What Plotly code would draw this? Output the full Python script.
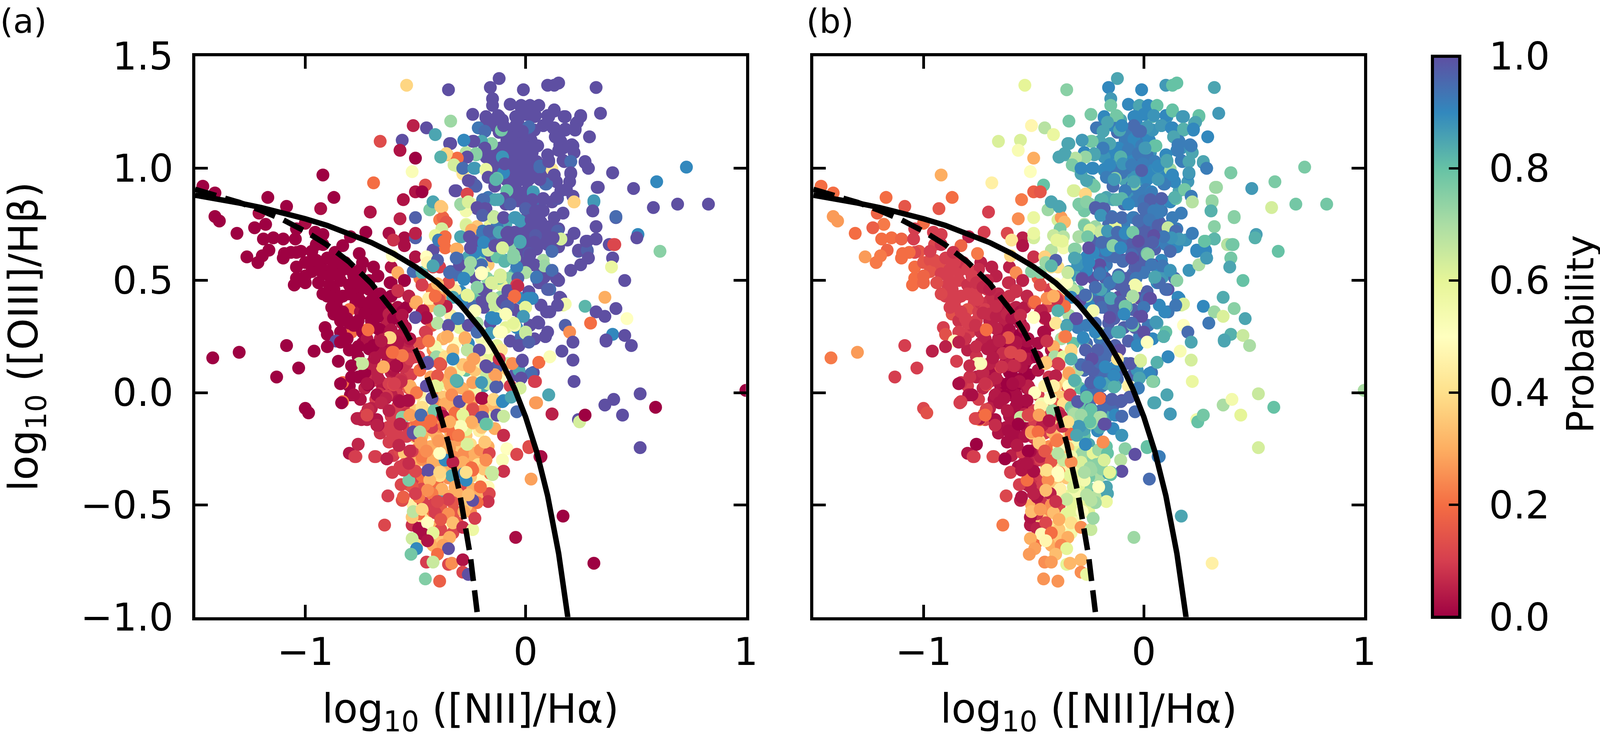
import plotly.graph_objects as go

# BPT diagram; same galaxies in both panels, coloured by model probability
WIDTH = 4113
HEIGHT = 1889

spectral = ['rgb(158,1,66)', 'rgb(213,62,79)', 'rgb(244,109,67)', 'rgb(253,174,97)', 'rgb(254,224,139)',
            'rgb(255,255,191)', 'rgb(230,245,152)', 'rgb(171,221,164)', 'rgb(102,194,165)', 'rgb(50,136,189)',
            'rgb(94,79,162)']

# dense column above the demarcation lines
column_x = [-.12, -.08, -.05, -.14, -.01, .03, -.17, -.06, -.02, .03, -.05, -.13, -.02, .07, .01, -.09, -.05, -.17, -.14,
            -.09, 0, .04, .08, .02, .07, .11, .15, .04, .08, -.01, -.06, -.12, -.09, -.16, -.22, -.25, -.2, -.15, -.09,
            -.06, -.01, .05, .08, .04, 0, -.04, -.09, -.12, -.2, -.25, -.3, -.17, -.2, -.19, -.11, -.34, -.28]
column_y = [1.16, 1.13, 1.10, 1.08, 1.13, 1.07, 1.05, 1.04, 1.02, 1.00, 1.00, 1.02, .97, .97, .96, .95, .88, .87, .86,
            .84, .82, .85, .81, .78, .76, .74, .73, .70, .69, .71, .71, .72, .75, .75, .74, .72, .69, .68, .68,
            .65, .64, .64, .59, .57, .54, .56, .59, .61, .59, .59, .57, .57, .57, .54, .52, .54, .53]
column_pa = [1, 1, 1, 1, 1, 1, 1, 1, 1, 1, 1, 1, 1, 1, .95, 1, 1, .93, .85, 1, .95, 1, 1, 1, 1, 1, 1, .97, 1, 1, 1, .97,
             .85, .6, .35, .9, .95, .6, .87, .75, .85, 1, .7, 1, .65, 1, .85, .75, .75, .9, 1, .35, .93, .55, .63, .97, .95]
column_pb = [.95, .9, .9, .88, .93, .88, .9, .9, .95, .92, .9, .87, 1, .93, .93, .85, .88, .85, .85, .95, .97, .9, .93,
             .95, .95, .92, .92, .97, .95, .95, .97, .97, .92, .95, .72, .85, .93, .97, 1, .97, .97, .97, .9, 1, .95,
             .95, .97, 1, .9, .85, .87, .93, 1, .9, 1, .88, .98]

# points filling the gaps in the column
infill_x = [-.14, -.105, -.075, -.035, -.085, -.045, -.01, .025, .015, -.115,
            -.155, -.18, -.07, -.025, .015, .05, .085, .04, -.005, -.045,
            -.08, -.13, -.155, -.02, .015, .055, .115, .09, -.055, -.02,
            .01, -.035, 0, .03, .065, .06, .025, -.005, .03, .075,
            .11, .08, 0, -.025, 0, .02, .055, -.015, -.08, -.105,
            -.15, -.23, -.24, -.185, -.155, -.26, -.13, -.23, -.02, .015,
            .075, -.05, -.075, -.11, -.175, -.23, -.26, -.315, -.345, -.33,
            -.295, -.24, -.2, -.165, -.115, -.07, -.02, .015, .06, .085]
infill_y = [1.19, 1.215, 1.165, 1.205, 1.125, 1.13, 1.10, 1.125, 1.15, 1.09,
            1.065, 1.05, 1.085, 1.065, 1.06, 1.03, .995, .99, 1.02, .97,
            1.0, .99, 1.015, .95, .95, .96, .97, .99, .92, .89,
            .905, .855, .855, .84, .835, .78, .80, .77, .74, .75,
            .725, .695, .73, .715, .69, .655, .66, .635, .68, .68,
            .695, .67, .625, .63, .61, .605, .605, .625, .58, .58,
            .545, .53, .51, .48, .51, .51, .545, .525, .495, .47,
            .45, .425, .405, .375, .425, .40, .42, .45, .49, .515]
infill_pa = [1, 1, 1, 1, 1, 1, 1, 1, 1, 1,
             1, 1, 1, 1, 1, 1, 1, 1, 1, 1,
             1, 1, 1, 1, 1, 1, 1, 1, 1, 1,
             1, 1, 1, 1, 1, 1, 1, 1, 1, 1,
             1, 1, 1, 1, 1, 1, 1, 1, 1, 1,
             .95, 1, 1, .9, 1, .85, .8, .9, 1, 1,
             1, .85, .75, .6, .75, 1, .72, .95, .9, .5,
             .9, .8, 1, .6, .75, 1, .9, 1, 1, 1]
infill_pb = [.9, .85, .92, .9, .92, .9, .92, .9, .9, .9,
             .9, .88, .92, .93, .93, .92, .9, .9, .92, .88,
             .93, .93, .9, .88, .9, .9, .9, .9, .92, .92,
             .92, .92, .93, .9, .92, .93, .95, .95, .95, .97,
             .95, .97, .97, .97, .97, .97, .97, .97, .97, .95,
             .95, .97, .95, .95, .95, .9, .95, .9, .97, .97,
             .9, .95, .97, .97, .97, 1, .9, .85, .85, .75,
             .8, .95, .97, .97, 1, .97, 1, .97, .9, .87]

# right flank of the column
flank_x = [.10, .15, .19, .13, .17, .12, .16, .20, .14, .10, .17, .22, .04, -.02]
flank_y = [.66, .65, .68, .78, .80, .85, .90, .94, .94, 1.06, 1.09, 1.07, 1.17, 1.27]
flank_pa = [1, 1, 1, 1, 1, 1, 1, 1, 1, 1, 1, 1, 1, 1]
flank_pb = [.92, .9, .88, .92, .92, .9, .85, .87, .9, .9, .88, .85, .88, .88]

# dark clump left of the dashed line
clump_x = [-1.04, -1.00, -.97, -.93, -.88, -.84, -1.04, -1.05, -1.0, -.97, -.92, -.89, -.84, -.89, -.87, -.9, -.82, -.74,
           -.69, -.75, -.67, -.75, -.8, -.71, -.61, -.55, -.71, -.66, -.76, -.83, -.77, -.70, -.86, -.87, -.8, -.75,
           -.68, -.84, -.76, -.70, -.91, -.9, -.72, -.79, -.63, -.66, -.58, -.53, -.57, -.47, -.59, -.45, -.56, -.61,
           -.8, -.74, -.68, -.76, -.71, -.81, -.66, -.73, -.68, -.61, -.65, -.58, -.53, -.61, -.68, -.55, -.57, -.53]
clump_y = [.56, .58, .59, .57, .55, .54, .51, .48, .49, .54, .53, .52, .50, .48, .46, .43, .58, .58,
           .56, .55, .52, .51, .48, .50, .49, .50, .46, .44, .45, .43, .40, .41, .39, .35, .37, .36,
           .37, .32, .32, .32, .29, .26, .28, .27, .31, .35, .45, .43, .34, .36, .375, .33, .31, .56,
           .19, .22, .19, .16, .12, .24, .24, .09, .07, .09, .03, .03, .02, 0, -.03, .12, .22, .19]
clump_pa = [0, 0, 0, 0, 0, 0, 0, 0, 0, 0, 0, 0, 0, 0, 0, 0, 0, 0,
            0, 0, 0, 0, 0, 0, 0, 0, 0, 0, 0, 0, 0, 0, 0, 0, .2, .02,
            0, 0, 0, 0, 0, 0, .2, .2, .05, .08, .07, .06, .02, .03, .4, .03, .03, .03,
            0, 0, .03, 0, .03, 0, .05, .05, .12, .05, .03, .08, .15, .1, .1, .1, .04, .07]
clump_pb = [.2, .15, .13, .13, .1, .1, .2, .2, .18, .15, .1, .1, .1, .1, .1, .1, .08, .05,
            .05, .07, .05, .05, .08, .06, .05, .03, .1, .06, .1, .1, .1, .07, .1, .14, .14, .1,
            .02, .08, .1, .05, .1, .14, .18, .1, .05, .05, .08, .07, .05, .08, .1, .1, .02, .05,
            .05, .05, .03, .08, .05, .08, .05, .04, .02, 0, 0, 0, .03, .02, .03, .02, .04, 0]

# more of the clump, mostly hidden under the points drawn later
core_x = [-.80, -.78, -.76, -.73, -.8, -.77, -.74, -.72, -.7, -.67, -.65, -.63, -.62, -.6, -.58, -.56, -.54, -.83, -.81, -.78,
          -.74, -.72, -.69, -.66, -.64, -.61, -.59, -.56, -.53, -.63, -.60, -.57, -.54, -.60, -.63, -.66, -.69, -.66, -.70, -.73,
          -.62, -.58, -.56, -.52, -.50]
core_y = [.55, .52, .49, .47, .44, .42, .40, .37, .35, .34, .42, .38, .35, .33, .38, .36, .38, .36, .33, .30,
          .27, .24, .21, .28, .26, .28, .25, .26, .23, .19, .21, .16, .13, .10, .13, .11, .09, .05, .05, .02,
          .04, -.01, .06, .08, .16]
core_pa = [0, 0, 0, 0, 0, 0, 0, 0, 0, 0, 0, 0, .05, 0, .02, 0, 0, 0, 0, 0,
           0, .03, 0, 0, .03, .03, .05, .04, .05, .02, .03, .05, .08, .03, .02, .03, .05, .04, .07, .05,
           .1, .1, .05, .1, .08]
core_pb = [.1, .1, .08, .06, .1, .1, .08, .1, .07, .05, .05, .04, .06, .03, .05, .03, .04, .1, .1, .08,
           .06, .05, .04, .03, .02, .02, .03, 0, .02, 0, .02, 0, 0, 0, .02, .03, .02, .03, .05, .06,
           0, .02, 0, 0, 0]

# outer edge of the clump
spur_x = [-1.10, -1.02, -.95, -1.0, -.94, -.95, -.90, -.86, -.92, -.85, -.88, -.84, -.80, -.85, -.80, -.76, -.75, -.72, -.70, -.66, -.62, -.60]
spur_y = [.60, .63, .66, .52, .49, .59, .60, .58, .44, .42, .38, .27, .31, .14, .03, .07, -.03, -.12, -.07, -.18, -.22, -.28]
spur_pa = [0, 0, 0, 0, 0, 0, 0, 0, 0, 0, 0, 0, 0, 0, 0, 0, .03, .05, .05, .08, .1, .1]
spur_pb = [.2, .15, .12, .18, .13, .13, .1, .1, .12, .1, .1, .1, .1, .1, .1, .05, .1, .12, .05, .03, .02, .05]

# mixed wedge between and below the two lines
wedge_x = [-.48, -.42, -.48, -.43, -.39, -.52, -.48, -.40, -.35, -.55, -.5, -.43, -.53, -.45, -.40, -.35, -.27, -.29, -.22,
           -.17, -.22, -.27, -.17, -.12, -.39, -.43, -.5, -.43, -.39, -.32, -.27, -.22, -.18, -.34, -.48, -.53, -.40,
           -.32, -.22, -.35, -.48, -.40, -.29, -.40, -.34]
wedge_y = [.22, .19, .10, .07, .05, .02, -.01, -.01, .03, -.07, -.08, -.13, -.16, -.18, -.10, -.13, -.08, .02, .02,
           .05, .08, .10, .16, .18, .17, .14, -.2, -.24, -.27, -.25, -.27, -.29, -.30, -.31, -.30, -.31, -.32,
           -.33, -.37, -.38, -.38, -.41, -.41, -.45, -.46]
wedge_pa = [.15, .25, .2, .28, .4, .3, .45, .25, .45, .1, .35, .25, .1, .55, .45, .5, .4, .3, .45,
            .7, .5, .8, .6, .45, .55, .2, .4, .3, .28, .35, .28, .25, .3, .2, .3, .12, .35,
            .35, .55, .25, .1, .2, .12, .85, .3]
wedge_pb = [.02, .03, .03, .08, .2, .05, .1, .3, .15, 0, .1, .1, .02, .1, .3, .6, .85, .8, .9,
            .92, .95, .95, .95, 1, .1, .05, .08, .25, .25, .6, .6, .75, .7, .62, .07, .03, .3,
            .55, .7, .35, .08, .35, .6, .45, .6]

# lower wedge, rough rows from top to tip
low_x = [-.58, -.44, -.37, -.30, -.24, -.16, -.57, -.46, -.38, -.31, -.25, -.17,
         -.60, -.50, -.42, -.34, -.27, -.21, -.14, -.58, -.47, -.40, -.31, -.25, -.17,
         -.57, -.49, -.41, -.35, -.28, -.24, -.19, -.57, -.51, -.44, -.37, -.30, -.26, -.20, -.16,
         -.53, -.46, -.38, -.31, -.24, -.18, -.51, -.44, -.38, -.32, -.25,
         -.49, -.41, -.36, -.31, -.49, -.42, -.38]
low_y = [-.06, -.05, -.03, -.06, -.03, -.06, -.11, -.10, -.12, -.12, -.10, -.11,
         -.15, -.15, -.17, -.18, -.19, -.17, -.16, -.19, -.19, -.20, -.21, -.23, -.24,
         -.26, -.25, -.27, -.29, -.27, -.29, -.28, -.33, -.35, -.33, -.33, -.35, -.33, -.37, -.36,
         -.41, -.41, -.43, -.45, -.43, -.46, -.50, -.54, -.54, -.53, -.53,
         -.58, -.60, -.60, -.58, -.67, -.68, -.65]
low_pa = [.1, .3, .35, .45, .3, .35, .1, .28, .3, .35, .85, .6,
          .1, .25, .3, .3, .35, .45, .3, .1, .3, .3, .28, .4, .3,
          .12, .25, .35, .3, .25, .3, .2, .1, .2, .25, .3, .3, .25, .5, .2,
          .15, .2, .3, .3, .3, .15, .45, .2, .25, .15, .25,
          .02, .3, .5, .15, .4, .3, .35]
low_pb = [.02, .3, .3, .85, .95, .95, 0, .12, .2, .7, .8, .85,
          .03, .05, .3, .4, .8, .9, .9, .02, .1, .3, .55, .85, .8,
          .05, .1, .3, .5, .7, .75, .85, .02, .03, .15, .45, .55, .75, .7, .85,
          .05, .1, .45, .55, .75, .8, .3, .25, .45, .6, .6,
          .1, .4, .5, .55, .2, .3, .35]

# ridge just under the solid line
ridge_x = [-.30, -.24, -.18, -.11, -.05, -.33, -.26, -.19, -.12, -.08, -.03,
           -.32, -.26, -.20, -.13, -.07, -.02, .04, -.30, -.22, -.16, -.09, -.04, .02,
           -.25, -.19, -.12, -.05, .01, .07]
ridge_y = [.10, .11, .09, .10, .08, .05, .01, .03, .06, .13, .10,
           .22, .22, .24, .21, .23, .25, .24, .29, .31, .31, .29, .29, .30,
           .39, .38, .36, .37, .42, .39]
ridge_pa = [.55, .5, .65, .35, 1, .35, .3, .85, .5, .65, .85,
            .5, .9, .55, .6, 1, .95, 1, .6, .7, 1, .6, .9, 1,
            .95, 1, .55, 1, .9, 1]
ridge_pb = [.7, .95, .95, .97, .97, .75, .9, .93, .95, .95, .88,
            .8, .95, .93, .97, .97, .92, .9, .92, .95, .97, .97, .97, .93,
            .9, .95, .97, .97, .95, .9]

# points filling the gaps in the wedge and the clump
mass_x = [-.435, -.375, -.425, -.35, -.315, -.34, -.425, -.375, -.41, -.405, -.365, -.285, -.23, -.20, -.13,
          -.17, -.23, -.375, -.34, -.375, -.465, -.525, -.495, -.455, -.405, -.365, -.33, -.26, -.195, -.14,
          -.20, -.27, -.33, -.39, -.425, -.495, -.54, -.495, -.405, -.345, -.285, -.23, -.20, -.425, -.47,
          -.73, -.67, -.61, -.70, -.755, -.765, -.67, -.76, -.71, -.64, -.73, -.67, -.61, -.555, -.525,
          -.58, -.525, -.61, -.54, -.61, -.625]
mass_y = [.385, .415, .46, .46, .425, .345, .30, .24, .205, .16, .16, .125, .10, .135, .115,
          .04, .01, .055, .03, -.02, -.05, .03, 0, -.05, -.05, -.05, -.065, -.06, -.08, -.06,
          -.155, -.165, -.16, -.15, -.155, -.13, -.195, -.195, -.24, -.245, -.28, -.27, -.32, -.305, -.295,
          .355, .385, .43, .46, .415, .30, .285, .205, .195, .175, .09, .065, .125, .115, .24,
          .225, .15, -.01, -.095, -.105, -.155]
mass_pa = [.3, .3, .2, .3, .9, .45, .15, .3, .55, .72, .4, .35, .35, .45, .97,
           .65, .55, .3, .3, .35, .42, .3, .22, .5, .25, .3, .3, .4, .25, .32,
           .35, .6, .22, .25, .1, .2, .1, .12, .3, .28, .25, .3, .2, .3, .25,
           0, 0, 0, 0, 0, 0, 0, 0, 0, .03, 0, .05, .05, .08, .03,
           .03, .1, .05, .08, .1, .1]
mass_pb = [.1, .2, .1, .5, .75, .7, .03, .7, .3, .7, .6, .95, .97, .95, .9,
           .85, .95, .4, .5, .35, .55, .05, .5, .55, .15, .4, .78, .8, .95, .95,
           .85, .85, .6, .35, .1, .1, .03, .1, .2, .35, .72, .6, .72, .25, .1,
           .07, .07, .08, .05, .1, .08, .05, .07, .04, .07, .06, .05, .05, .03, .02,
           .03, .03, .02, .05, .03, .03]

# rest of the wedge tail
tail_x = [-.55, -.525, -.47, -.42, -.385, -.47, -.53, -.55, -.385, -.33, -.285, -.205, -.165, -.215, -.19, -.335, -.47,
          -.515, -.425, -.385, -.33, -.27, -.205, -.22, -.465, -.485, -.42, -.35, -.385, -.465, -.33, -.515, -.485]
tail_y = [-.27, -.31, -.285, -.305, -.355, -.37, -.355, -.32, -.245, -.285, -.31, -.255, -.27, -.32, -.34, -.37, -.43,
          -.42, -.45, -.505, -.49, -.505, -.43, -.465, -.49, -.465, -.50, -.54, -.61, -.565, -.625, -.59, -.54]
tail_pa = [.35, .3, .22, .3, .35, .2, .15, .1, .3, .25, .3, .25, .12, .4, .35, .85, .12,
           .15, .22, .15, .15, .35, .25, .3, .1, .22, .1, .25, .12, .42, .12, .08, .2]
tail_pb = [.1, .05, .05, .15, .25, .1, .05, .03, .5, .55, .62, .72, .8, .75, .75, .6, .1,
           .05, .05, .12, .6, .6, .82, .68, .08, .03, .25, .6, .35, .35, .55, .04, .08]

# band around the solid line
band_x = [-.58, -.48, -.47, -.5, -.43, -.39, -.40, -.51, -.47, -.42, -.39, -.34, -.28, -.2, -.15, -.08, -.04, 0, .05, .12,
          .14, .07, .11, .03, -.12, -.26, -.15, -.1, -.18, -.21, -.32, -.35, -.40, -.33, -.29, -.05, .16, .17, .15, .27,
          .36, .41, .32, .36, .46, .295, .11, 0, -.08, -.14, -.23, -.37, -.09, -.02, -.01, -.15, -.24, -.31, -.40, -.35,
          -.05, .06, .18, .20, .10, 0, -.16, -.11, -.2, -.275, -.36, -.45, -.62, -.65, -.86, .395, .45, .365, .09]
band_y = [.535, .51, .48, .40, .42, .42, .43, .54, .535, .56, .56, .53, .51, .53, .485, .45, .48, .535, .51, .54,
          .51, .49, .46, .42, .51, .43, .42, .41, .455, .46, .455, .49, .485, .425, .41, .43, .42, .39, .39, .385,
          .425, .375, .36, .34, .33, .31, .36, .38, .38, .39, .365, .38, .35, .34, .34, .33, .30, .33, .31, .30,
          .30, .31, .30, .27, .27, .265, .265, .27, .265, .24, .25, .265, .245, .235, .23, .26, .255, .23, .25]
band_pa = [.3, .22, .12, .28, .45, .2, .3, .95, .83, .13, .1, .95, .9, .5, .62, 1, .05, .68, .95, 1,
           1, 1, .95, .9, .8, .6, .65, 1, 1, .77, .43, .13, .32, .85, .9, .2, 1, .6, 1, .82,
           .3, 1, 1, 1, .5, .2, 1, .55, 1, .65, .48, .75, .52, 1, .85, .92, 1, .9, .68, .97,
           .55, 1, .97, .25, 1, .63, .9, .5, .5, .33, .33, .1, .4, .05, 1, .9, 1, 1, 1]
band_pb = [.25, .17, .18, .13, .3, .17, .18, .75, .75, .4, .4, .88, .97, .9, .97, .98, .55, .95, .85, .88,
           .95, .95, .97, 1, .97, .72, .95, 1, .92, .9, .67, .5, .5, .9, 1, .6, .9, .62, .92, .9,
           .84, .75, .72, .62, .85, .93, .93, 1, .75, .97, .55, .87, .85, 1, .97, .97, .93, .98, .45, .87,
           .78, .85, .5, .95, .8, .95, .97, .85, .7, .85, .27, .02, .05, .03, .5, .83, .65, .85, .9]

# points in the upper half, most of them separate enough to read
upper_x = [-.54, -.35, -.12, -.16, -.15, -.01, .10, .13, .15, .32, -.15, -.07, -.02, .02, .06, .13, -.24, .34, .25, .18,
           -.18, -.12, -.04, .01, .04, .105, -.34, -.51, -.45, .23, .08, -.11, -.21, .13, -.185, -.11, .01, .225, -.41, .18,
           -.025, .29, -.56, -.66, -.28, .135, -.24, -.34, -.155, .16, .215, -.185, .055, .01, -.57, .15, -.50, -.27, -.225, -.355,
           -.385, -.31, -.105, .105, .175, .205, .27, -.31, .285, .73, .12, -.23, -.285, -.18, -.515, .065, -.09, -.92, .395, .205,
           -.285, -.10, .13, .595, -.69, -.455, -.165, -.13, -.245, .09, -.045, -.225, -.14, .33, .49, -.315, .185, -.50, -.47, -.085,
           .035, -1.465, -1.41, -1.17, -.87, -.265, -.555, -.10, .215, .145, .08, .035, -.19, .22, .31, -.42, -.38, -.245, -1.085, -.93,
           -.435, -.29, -.22, -.18, .58, .69, .83, -.705, .305, -1.21, -1.41, -1.39, -.57, -.50, .41, -.27, -.19, -.145, -.10, -.045,
           .04, -.025, -.39, -.375, -.36, -.27, -1.18, -1.23, -1.0, .32, -.38, -.195, -.13, -.08, .22, -1.31, -1.04, -.955, -.92, -.725,
           -.62, -.55, -.50, -.50, -.795, .51, .505, -.41, -.29, -.39, -.365, -.19, -.025, .16, .045, .28, .32, .38, .405, -1.19,
           -1.145, -1.10, -1.045, -.60, -.55, -.83, -.92, -.31, -.365, -.14, -.105, -.25, -.17, -.42, .12, .24, .28, .015, .61, -1.165,
           -.97, -1.095, -1.04, -.865, -1.065, -1.265, -1.195, -1.215, -.755, -.605, -.50, -.45, -.445, -.40, -.31, .395, .285, -.055, -.05]
upper_y = [1.37, 1.35, 1.40, 1.36, 1.31, 1.35, 1.37, 1.37, 1.38, 1.36, 1.28, 1.285, 1.28, 1.28, 1.28, 1.26, 1.24, 1.245, 1.23, 1.23,
           1.23, 1.23, 1.23, 1.24, 1.23, 1.23, 1.21, 1.19, 1.18, 1.20, 1.19, 1.19, 1.18, 1.18, 1.165, 1.17, 1.18, 1.17, 1.15, 1.17,
           1.165, 1.14, 1.125, 1.12, 1.125, 1.14, 1.12, 1.11, 1.11, 1.12, 1.10, 1.09, 1.10, 1.09, 1.08, 1.08, 1.045, 1.07, 1.06, 1.06,
           1.05, 1.04, 1.05, 1.035, 1.03, 1.03, 1.025, 1.01, 1.0, 1.005, .995, 1.0, 1.0, .99, .985, 1.005, 1.02, .97, .98, .975,
           .975, .98, .97, .94, .935, .925, .96, .955, .94, .93, .93, .92, .92, .915, .91, .90, .905, .895, .895, .90,
           .895, .92, .89, .87, .87, .885, .86, .865, .875, .865, .865, .855, .86, .85, .85, .85, .825, .84, .83, .82,
           .815, .835, .82, .82, .825, .84, .84, .805, .81, .80, .785, .765, .775, .78, .78, .81, .80, .785, .78, .78,
           .805, .765, .77, .78, .76, .75, .75, .735, .755, .74, .73, .72, .74, .715, .71, .71, .73, .715, .705, .715,
           .71, .69, .69, .71, .695, .705, .69, .70, .695, .675, .695, .665, .67, .685, .67, .675, .685, .66, .66, .685,
           .69, .685, .685, .68, .655, .655, .66, .64, .645, .655, .645, .645, .635, .635, .63, .63, .63, .62, .63, .635,
           .63, .62, .625, .625, .625, .605, .61, .58, .62, .61, .605, .605, .58, .59, .60, .60, .60, .615, .60]
upper_pa = [.38, 1, 1, 1, 1, 1, 1, 1, 1, 1, 1, 1, 1, 1, 1, 1, 1, 1, 1, 1,
            1, 1, 1, 1, 1, 1, .72, .05, 1, 1, 1, 1, 1, 1, .95, .78, .97, 1, .85, 1,
            1, 1, 1, .13, .92, 1, 1, 1, .75, 1, 1, 1, 1, 1, .03, 1, 0, .68, .78, .35,
            .83, .22, .87, 1, 1, .93, 1, .63, 1, .9, .42, .87, 1, .58, .52, .95, 1, 0, 1, 1,
            .42, .9, 1, .9, .2, .13, 1, .8, 1, .95, 1, .97, 1, 1, 1, 1, 1, .03, 0, .8,
            .85, 0, 0, 0, 0, .12, .03, 1, 1, .98, .98, .95, .95, .33, .87, .83, .35, .55, 0, .02,
            .77, .7, 1, 1, 1, 1, 1, .03, 1, .02, 0, 0, .05, .97, .97, .55, .93, .68, 1, .85,
            1, .87, .22, .18, .15, .58, 0, 0, .02, 1, .63, .93, .93, 1, 1, 0, 0, 0, 0, 0,
            .02, .02, .97, .05, 0, .9, 1, .6, .83, .9, .2, .9, .85, .63, 1, 1, 1, 1, .12, 0,
            0, 0, 0, .08, .02, 0, 0, .3, .2, 1, .65, 1, .65, 1, .95, .97, .97, .98, .75, 0,
            0, 0, 0, 0, 0, 0, 0, 0, 0, .5, .03, .5, .47, .9, .95, 1, 1, .7, .72]
upper_pb = [.60, .75, .85, .9, .87, .9, .87, .8, .8, .85, .78, .9, .85, .9, .8, .8, .77, .87, .8, .87,
            .9, .8, .9, .9, .83, .88, .78, .47, .68, .85, .88, .92, .93, .92, .84, .85, .87, .9, .58, .83,
            .95, .9, .62, .62, .85, .85, .77, .85, .86, .92, .92, .9, .8, .85, .53, .9, .3, .9, .85, .83,
            .85, .67, .82, .85, .92, .82, .9, .76, .9, .77, .72, .9, .7, .85, .51, .88, .9, .3, .77, .9,
            .85, .93, .95, .77, .45, .8, .93, .75, .87, .95, .75, .78, .95, .72, .87, .62, .8, .17, .15, .95,
            .9, .2, .2, .2, .2, .38, .22, .83, .95, .8, .97, .93, .83, .65, .72, .85, .85, .75, .15, .15,
            .72, .78, .97, .97, .63, .78, .78, .1, .84, .18, .27, .27, .25, .58, .75, .78, .88, .92, .97, .95,
            .9, .95, .62, .27, .32, .68, .22, .17, .2, .75, .77, .68, .6, .9, .92, .2, .1, .1, .1, .1,
            .12, .05, .63, .58, .05, .86, .83, .65, .68, .58, .68, .93, .97, .83, .9, .78, .82, .68, .78, .2,
            .2, .18, .1, .42, .03, .18, .08, .73, .55, .77, .88, .97, .9, .68, .95, .9, .92, .78, .8, .18,
            .1, .2, .12, .08, .2, .27, .22, .22, .22, .38, .08, .37, .72, .45, .85, .75, .88, .97, 1]

# points in the lower half and the tail of the wedge
lower_x = [-1.42, -1.30, -1.085, -.96, -.90, -.84, -1.13, -1.03, -.83, -.84, -.79, -.715, -.795, -.83, -.835, -1.0, -.985, -.715, -.76, -.745,
           -.725, -.67, -.675, -.76, -.80, -.77, -.68, -.63, -.605, -.565, -.625, -.56, -.555, -.64, -.515, -.51, -.47, -.41, -.385, -.485,
           -.445, -.465, -.42, -.345, -.515, -.445, -.375, -.33, -.285, -.24, -.23, -.28, -.495, -.52, -.35, -.40, -.45, -.42, -.35, -.335,
           -.285, -.285, -.26, -.455, -.39, .17, -.045, .31, .12, .24, .245, .27, .36, .40, .52, .59, .44, .52, .105, .05,
           .015, .07, -.10, .025, -.085, -.04, -.105, -.10, -.15, -.17, -.165, -.17, -.22, -.24, -.26, .22, .215, .215, .165, .11,
           .06, .035, .045, -.025, -.015, -.03, .365, .48, 1.0, -.60, -.56, -.65, -.755, -.79, -.70, -.585, -.485, -.46, -.445, -.385,
           -.33, -.26, -.33, -.24, -.18, -.255, -.34, -.14, -.31, -.24, -.13, -.07, -.45, -.40, -.565, -.60, -.665, -.63, -.575, -.53,
           -.47, -.425, -.335, -.26, -.195, -.145, -.10, -.30, -.24, -.32, -.385, -.475, -.555, -.52, -.13, -.10, -.195, -.24, -.175, -.29,
           -.33, -.39, -.475, -.575, -.515, -.45, -.365, -.245, -.28, -.25, -.445, -.50, -.39, -.435, -.185, -.265, -.51, -.565, -.37, -.46,
           -.615, -.32, -.35, -.40, -.445, -.50, -.53, -.27, -.205]
lower_y = [.155, .18, .21, .185, .205, .225, .07, .11, .045, .04, .07, .035, -.01, -.04, -.045, -.07, -.09, -.075, -.115, -.12,
           -.095, -.145, -.12, -.23, -.27, -.285, -.285, -.295, -.355, -.41, -.46, -.48, -.465, -.59, -.555, -.53, -.52, -.535, -.565, -.605,
           -.58, -.63, -.625, -.645, -.65, -.66, -.68, -.58, -.60, -.61, -.56, -.53, -.695, -.72, -.695, -.72, -.755, -.755, -.765, -.76,
           -.745, -.80, -.81, -.83, -.84, -.55, -.645, -.76, -.095, -.12, -.13, -.10, -.055, -.03, -.005, -.065, -.10, -.245, -.01, -.045,
           -.24, -.285, -.19, -.385, -.25, -.275, -.30, -.35, -.365, -.42, -.45, -.485, -.49, -.48, -.455, .05, .145, .225, .185, .16,
           .135, .09, .05, .02, .14, .21, .235, .21, .01, .18, .165, .115, .13, .12, .13, .12, .16, .13, .135, .125,
           .18, .19, .15, .15, .12, .115, .09, .08, .05, .045, .03, .03, .03, .03, .06, .035, -.005, -.015, -.035, -.035,
           -.065, -.025, -.01, -.015, -.025, -.03, -.035, -.04, -.07, -.09, -.09, -.10, -.11, -.10, -.10, -.105, -.11, -.135, -.14, -.15,
           -.185, -.21, -.215, -.235, -.26, -.26, -.30, -.335, -.36, -.375, -.35, -.35, -.37, -.39, -.22, -.23, -.18, -.14, -.15, -.145,
           -.17, -.42, -.475, -.485, -.435, -.45, -.39, -.39, -.42]
lower_pa = [0, 0, 0, 0, 0, 0, 0, 0, .2, 0, 0, 0, 0, .22, 0, 0, 0, .05, .05, .05,
            .1, .03, .03, .03, .03, .12, .12, .06, .1, .12, .1, .13, .17, .12, .35, .67, .38, .1, .15, .02,
            .5, .02, .6, .3, .64, .03, .28, .33, .07, .57, .1, .3, .9, .78, 1, .2, .1, .65, .12, .25,
            .03, .12, 1, .76, .17, 0, .02, 0, .07, 1, .63, 0, 1, 1, 1, 0, 1, 1, .82, .27,
            .13, .02, .05, .28, .5, .13, .52, .08, .65, .48, .12, .08, .2, 1, .33, 1, 1, 1, 1, .5,
            .2, 1, .12, .62, 1, 1, 1, 1, 0, .2, .22, .3, .65, 0, .05, 0, .1, .1, .95, .13,
            .4, .68, .88, .33, 1, .35, .33, .3, .85, .35, 1, .1, 1, .6, .08, .12, .08, .1, .03, .05,
            .4, 1, .25, .28, .03, .42, .88, 1, .18, .2, .1, .97, .78, .33, 1, .65, 1, .32, .75, .52,
            .2, .3, .28, .05, .1, .3, .9, .2, .92, .35, 1, .13, .4, .32, .37, .6, 1, .05, .2, .2,
            .1, .3, .1, .12, .25, .1, .77, .9, .2]
lower_pb = [.22, .27, .1, .05, .05, .05, .1, .1, .08, .02, .08, .12, .03, .1, .1, .12, .14, .12, .13, .22,
            .2, .02, .02, 0, .03, .1, .12, 0, .08, .1, .12, .05, .03, .22, .03, .33, .27, .33, .3, .05,
            .12, .48, .2, .3, .3, .47, .24, .4, .25, .65, .72, .5, .28, .27, .6, .33, .25, .27, .6, .32,
            .32, .25, .58, .26, .26, .85, .72, .45, .88, .55, .8, .78, .7, .55, .65, .8, .6, .63, .82, .85,
            .8, .92, .88, .95, .75, 1, .68, 1, .8, .85, .85, .58, .72, .68, .68, .58, .63, .85, .53, .92,
            .85, .93, .8, .93, .65, .95, .85, .7, .7, .1, .13, .13, .55, .07, .05, .05, 0, .05, .35, .1,
            .45, .65, .85, .95, .95, .92, .35, .93, .78, 1, .85, .45, .5, .35, 0, 0, .03, 0, .02, .02,
            .45, .5, .1, .95, 1, .98, 1, .98, .97, .75, .08, 0, .6, .15, .9, .95, .72, .72, .98, .87,
            .18, .23, .38, .07, .02, .14, .63, .72, .6, .78, .37, .03, .5, .25, .22, .9, .35, 0, .08, .05,
            .02, .62, .65, .08, .33, .05, .2, .55, .5]

tower_x = [-.18, -.125, -.045, 0, .045, .10, .13, .175, .25, .235, .08, .125, .18, .225, .135, .155, .21, .155, .05, .005,
           .015, -.015, -.045, -.10, -.165, -.215, -.185, -.155, -.2, -.235, -.28, -.345, -.185, -.225, -.265, -.31, -.36, -.385, -.325, -.285,
           -.235, -.18, -.17, -.135, -.23, -.26, -.32, -.265, -.295, -.26, -.42, -.385, -.105, -.095, -.055, -.01, .065, .095, .105, .17,
           .205, .27, .285, .205, .13, .065, -.045, -.085, .035, .03, .08, .14, .185, .215, .22, .325, .31, .305, .395, .41,
           -.10, -.07, -.125, -.195, -.22, -.185, -.195, -.145, -.10, -.05, -.025, 0, .045, .07, .04, .025, .065, .11, .145, .22,
           .16, .125, .09, .045, .04, -.27, -.245, -.295, -.255, -.395, -.37, -.315, -.25, -.195, -.165, -.12, -.085, -.05, -.025, -.19,
           -.14, -.105, -.055, .02, .085, .035, .12, .24, .28, .32, .275, .395, .38, .40, .39, .205, .25, .285, .12, .15,
           .05, 0, -.04, -.095, -.055, -.30, -.315, -.40, -.42, -.205, -.25, -.20, -.345, -.28, -.115, -.155, -.035, -.04, -.08, -.195,
           -.22, -.265, -.15, -.10, -.055, .03, .105, .155, .18, .45, .145, 0, -.08, -.395, -.36]
tower_y = [1.225, 1.235, 1.23, 1.24, 1.235, 1.235, 1.255, 1.23, 1.235, 1.205, 1.19, 1.18, 1.175, 1.175, 1.14, 1.105, 1.105, 1.08, 1.10, 1.09,
           1.185, 1.165, 1.19, 1.19, 1.205, 1.18, 1.165, 1.11, 1.12, 1.12, 1.125, 1.11, 1.09, 1.065, 1.05, 1.045, 1.065, 1.05, 1.015, 1.00,
           1.00, .995, .96, .95, .925, .945, .90, .885, .84, .85, .85, .83, 1.05, 1.02, 1.015, .99, 1.01, .93, 1.03, 1.035,
           1.03, 1.03, 1.0, .98, .97, .95, .94, .90, .89, .86, .865, .87, .905, .875, .85, .915, .855, .81, .98, .785,
           .865, .84, .86, .86, .825, .82, .79, .78, .78, .78, .765, .82, .81, .805, .77, .77, .745, .735, .72, .71,
           .685, .69, .695, .70, .67, .745, .725, .695, .695, .68, .675, .64, .645, .715, .72, .715, .71, .715, .675, .67,
           .655, .645, .615, .615, .565, .57, .63, .635, .635, .685, .675, .60, .66, .66, .56, .545, .57, .60, .545, .50,
           .515, .535, .56, .585, .60, .57, .60, .59, .565, .565, .58, .535, .535, .505, .525, .49, .51, .48, .45, .46,
           .47, .435, .42, .40, .425, .42, .46, .425, .395, .50, .39, .38, .385, .415, .385]
tower_pa = [1, 1, 1, 1, 1, 1, 1, 1, 1, 1, 1, 1, 1, 1, 1, 1, 1, 1, 1, 1,
            .95, 1, 1, 1, 1, .93, .95, .75, .85, 1, .9, 1, 1, .75, 1, .2, .38, .83, .63, .95,
            .87, .58, 1, .82, .97, 1, 1, .12, .72, .62, .85, .35, .88, 1, 1, 1, .95, .95, 1, 1,
            .95, 1, 1, 1, 1, 1, 1, .8, .87, 1, 1, 1, 1, 1, .37, 1, .87, 1, 1, .95,
            1, .97, .85, .95, 1, 1, .97, .65, 1, .87, .87, .97, 1, 1, 1, 1, 1, 1, .97, 1,
            .63, 1, 1, .98, 1, .62, .3, .85, 1, .92, .2, .3, 1, .93, .97, .85, 1, 1, .85, .9,
            1, .62, .75, 1, .72, 1, .95, 1, .97, 1, 1, 1, 1, .12, .58, 1, 1, 1, .95, 1,
            .92, .7, .92, .82, .75, 1, .95, .97, .85, .95, .72, .5, .95, .9, .62, .6, .97, .1, 1, 1,
            .75, .62, .65, 1, .22, .92, .95, 1, .55, 1, 1, .6, .97, .13, .05]
tower_pb = [.9, .78, .9, .9, .88, .9, .8, .87, .8, .85, .87, .9, .83, .9, .85, .92, .92, .92, .8, .87,
            .87, .95, .95, .9, .85, .93, .85, .85, .85, .78, .87, .85, .92, .85, .73, .68, .85, .85, .77, .9,
            .9, .9, .92, .87, .78, .85, .62, .38, .77, .75, .85, .85, .83, .88, .92, .97, .9, .92, .85, .92,
            .85, .85, .92, .87, .9, .87, .85, .92, .92, .97, .97, .83, .78, .92, .68, .72, .73, .83, .77, .75,
            .82, .9, .82, .83, .97, .97, .88, .95, .95, .92, .95, .95, .92, .92, .92, .93, .97, .65, .95, .92,
            .87, .88, .93, 1, .97, .77, .62, .7, .78, .6, .6, .75, 1, .65, .87, .95, .9, .78, 1, .95,
            .75, .9, .95, .75, .93, .93, .95, .9, .9, .82, .8, .78, .68, .78, .85, .88, .7, .87, .88, .75,
            .8, .93, .97, .95, 1, .88, .85, .97, .82, 1, .9, .97, .65, 1, .95, .95, .93, .55, 1, .85,
            .95, .97, .85, 1, .6, 1, 1, .9, .62, .8, .93, .97, .85, .1, .2]

front_x = [-.55, -.615, -.58, -.53, -.47, -.495, -.395, -.44, -.41, -.265, -.155, -.115, -.20, -.28, -.08, -.15, -.105, .025, .05, .10,
           -.035, -.05, -.085, 0, -.01, .055, .095, -.055, -.135, -.155, -.09, -.23, -.26, -.305, -.39, -.40, -.35, -.455, -.465, -.45,
           -.56, -.50, -.545, -.615, -.655, -.715, -.355, -.275, -.265, -.33, -.33, -.44, -.16, -.12, -.22, 0, .09, -.03, .015, -.11,
           -.17, -.21, -.235, -.255, -.175, -.06, -.12, -.015, .06, .11, .025, .04, -.02, -.025, -.135, -.39, -.445, -.34, -.40, -.56,
           -.605, -.59, -.645, -.74, -.685, -.315, -.24, -.2, -.135, -.41, -.45, -.565, -.595, -.72, -.78, -.675, -.635, -.57, -.535, -.655,
           -.62, -.715, -.745, -.765, -.72, -.675, -.56, -.525, -.475, -.415, -.425, -.30, -.26, -.20, -.145, -.105, -.065, .045, .105, .12,
           -.375, -.315, -.24, -.13, -.20, -.18, -.10, -.285, -.245, -.295, -.345, -.43, -.57, -.51, -.48, -.04, -.10, -.085, -.04, .015,
           .065, -.105, -.10, -.15, -.185, -.265, -.305, -.24, -.18, -.365, -.39, -.395, -.475, -.45, -.525, -.575, -.76, -.685, -.63, -.775,
           -.605, -.555, -.50, -.53, -.44, -.39, -.33, -.27, -.155]
front_y = [.50, .49, .455, .43, .48, .405, .415, .42, .43, .435, .49, .515, .53, .505, .455, .42, .405, .42, .515, .46,
           .475, .43, .385, .38, .34, .315, .36, .31, .33, .335, .35, .365, .30, .33, .365, .31, .295, .27, .365, .335,
           .345, .335, .29, .245, .23, .28, .25, .245, .19, .19, .15, .23, .265, .27, .27, .27, .25, .21, .225, .19,
           .20, .19, .15, .115, .115, .13, .15, .145, .135, .16, .085, .05, .065, .02, .075, .13, .13, .085, .075, .165,
           .18, .12, .115, .13, .155, .055, .045, .045, .025, .03, .03, .05, .04, .04, -.01, -.01, -.025, -.04, -.035, -.045,
           -.08, -.075, -.115, -.115, -.10, -.145, -.11, -.10, -.10, -.08, -.025, -.04, -.02, -.025, -.03, -.04, -.02, -.045, -.01, -.095,
           -.105, -.095, -.075, -.10, -.11, -.14, -.105, -.10, -.13, -.15, -.13, -.125, -.14, -.175, -.175, -.085, -.19, -.25, -.275, -.245,
           -.285, -.30, -.35, -.355, -.22, -.23, -.19, -.345, -.30, -.30, -.27, -.215, -.225, -.26, -.26, -.235, -.23, -.285, -.295, -.285,
           -.355, -.345, -.35, -.315, -.345, -.355, -.31, -.355, -.355]
front_pa = [0, 0, .08, .05, .1, .3, .13, .45, .2, .6, .62, .62, .5, .9, 1, .65, 1, .9, .93, .97,
            .07, .2, .97, .6, .87, 1, 1, .6, .9, .9, .52, .52, 1, .93, .72, .68, 1, .1, .03, .02,
            .03, 1, .03, .38, .04, .2, .3, .3, .67, .33, .9, .22, .87, .5, .95, .65, 1, 1, .97, .42,
            .5, 1, .28, .28, 1, .25, .08, 1, .2, .52, .95, .1, 1, .63, .28, .15, 1, .28, .15, .22,
            .2, .02, .3, .65, .03, .83, .28, .87, .97, .6, 1, .07, .1, .03, .02, .02, .05, .02, .02, .06,
            .05, .07, .05, .05, .12, .05, .75, .28, .95, .78, 1, 1, .22, .02, .38, .9, .85, .27, .85, .05,
            .02, .2, .13, 1, 1, .8, .65, .6, .3, .52, .3, .2, .05, 1, .7, .95, .07, .5, .12, .13,
            .02, .52, .08, .65, .35, .62, .22, .2, .25, .9, .5, .27, .27, .25, .07, .06, .06, .1, .05, .1,
            .1, .1, .12, .07, 1, .38, .05, .4, .65]
front_pb = [.05, .07, .08, .06, .13, .2, .08, .25, .3, .95, .93, .85, .93, 1, .97, .85, .97, 1, .85, .95,
            .55, .7, .78, .93, 1, .87, .9, .95, .97, 1, .9, .55, .92, 1, .83, .42, .85, .02, .05, .03,
            .07, .5, .05, .15, .05, .2, .22, .9, .97, .38, .83, .08, .95, .85, .9, 1, .83, .9, .5, 1,
            .95, .97, 1, .97, .9, .98, .42, .62, .83, .9, .9, .75, .85, .92, .9, .1, .35, .28, .05, .12,
            .12, .07, .08, .52, .04, .83, .97, .9, .83, .45, .45, .03, .02, .08, .02, .04, .03, .02, .02, .03,
            .04, .12, .03, .12, .2, .07, .65, .12, .28, .72, .5, .98, .8, .2, .97, .97, .97, .85, .85, .87,
            .05, .7, .8, .9, .7, 1, .95, .72, .8, .87, .4, .03, 0, .27, .2, .95, .88, .75, 1, .8,
            .92, .68, 1, .8, .25, .9, .85, .72, .62, .65, .68, .22, .35, .15, 0, .04, 0, .12, 0, .1,
            .1, .03, .02, .03, .4, .5, .25, .7, .6]

# demarcation lines
solid_x = [-1.5, -1.4, -1.3, -1.2, -1.1, -1.0, -.9, -.8, -.7, -.6, -.5, -.4, -.3, -.2, -.15, -.1, -.05, 0, .05, .1, .15, .19, .2]
solid_y = [.880, .864, .845, .825, .801, .775, .745, .710, .669, .620, .561, .489, .398, .280, .206, .120, .017, -.108, -.262,
           -.459, -.716, -.989, -1.069]
dashed_x = [-1.5, -1.4, -1.3, -1.2, -1.1, -1.0, -.9, -.8, -.7, -.6, -.55, -.5, -.45, -.4, -.35, -.3, -.25, -.2]
dashed_y = [.906, .879, .848, .812, .770, .719, .658, .582, .487, .362, .283, .191, .080, -.056, -.225, -.443, -.733, -1.14]

x_ticks = [-1, 0, 1]
x_labels = ['\u22121', '0', '1']
y_ticks = [-1, -.5, 0, .5, 1, 1.5]
y_labels = ['\u22121.0', '\u22120.5', '0.0', '0.5', '1.0', '1.5']
bar_ticks = [0, .2, .4, .6, .8, 1]
# leading spaces push the colorbar labels away from the bar
bar_labels = ['\u00a0\u200a\u200a0.0', '\u00a0\u200a\u200a0.2', '\u00a0\u200a\u200a0.4',
              '\u00a0\u200a\u200a0.6', '\u00a0\u200a\u200a0.8', '\u00a0\u200a\u200a1.0']

# draw order matters: later groups sit on top
groups = [(column_x, column_y, column_pa, column_pb), (infill_x, infill_y, infill_pa, infill_pb),
          (flank_x, flank_y, flank_pa, flank_pb), (clump_x, clump_y, clump_pa, clump_pb),
          (core_x, core_y, core_pa, core_pb), (spur_x, spur_y, spur_pa, spur_pb),
          (wedge_x, wedge_y, wedge_pa, wedge_pb), (low_x, low_y, low_pa, low_pb),
          (ridge_x, ridge_y, ridge_pa, ridge_pb), (mass_x, mass_y, mass_pa, mass_pb),
          (tail_x, tail_y, tail_pa, tail_pb), (band_x, band_y, band_pa, band_pb),
          (upper_x, upper_y, upper_pa, upper_pb), (lower_x, lower_y, lower_pa, lower_pb),
          (tower_x, tower_y, tower_pa, tower_pb), (front_x, front_y, front_pa, front_pb)]
all_x, all_y, all_pa, all_pb = [], [], [], []
for gx, gy, gpa, gpb in groups:
    assert len(gx) == len(gy) == len(gpa) == len(gpb), (len(gx), len(gy), len(gpa), len(gpb))
    all_x += gx
    all_y += gy
    all_pa += gpa
    all_pb += gpb

FONT = 'DejaVu Sans'
TICK_SIZE = 98
TITLE_SIZE = 103
fig = go.Figure()

for xaxis, yaxis, probs in [('x', 'y', all_pa), ('x2', 'y2', all_pb)]:
    fig.add_trace(go.Scatter(x=all_x, y=all_y, mode='markers', xaxis=xaxis, yaxis=yaxis,
                             marker=dict(size=33, color=probs, coloraxis='coloraxis', line=dict(width=0))))
    fig.add_trace(go.Scatter(x=solid_x, y=solid_y, mode='lines', xaxis=xaxis, yaxis=yaxis,
                             line=dict(color='black', width=14)))
    fig.add_trace(go.Scatter(x=dashed_x, y=dashed_y, mode='lines', xaxis=xaxis, yaxis=yaxis,
                             line=dict(color='black', width=14, dash='56px,24px')))


def x_axis(domain):
    return dict(domain=domain, range=[-1.5, 1], tickvals=x_ticks, ticktext=x_labels, ticks='inside', ticklen=32,
                tickwidth=7, tickcolor='black', showline=True, linewidth=8, linecolor='black', mirror='allticks',
                showgrid=False, zeroline=False, ticklabelstandoff=-3,
                tickfont=dict(family=FONT, size=TICK_SIZE, color='black'),
                title=dict(text='log<sub>10</sub> ([NII]/H\u03b1)', standoff=126,
                           font=dict(family=FONT, size=TITLE_SIZE, color='black')))


def y_axis(anchor, labels):
    return dict(domain=[(HEIGHT - 1579.5) / HEIGHT, (HEIGHT - 143.5) / HEIGHT], range=[-1, 1.5], anchor=anchor,
                tickvals=y_ticks, ticktext=y_labels, ticks='inside', ticklen=32, tickwidth=7, tickcolor='black',
                showline=True, linewidth=8, linecolor='black', mirror='allticks', showgrid=False, zeroline=False,
                showticklabels=labels, ticklabelstandoff=28,
                tickfont=dict(family=FONT, size=TICK_SIZE, color='black'))


left_y = y_axis('x', True)
left_y['title'] = dict(text='log<sub>10</sub> ([OIII]/H\u03b2)', standoff=108,
                       font=dict(family=FONT, size=TITLE_SIZE, color='black'))

fig.update_layout(
    width=WIDTH, height=HEIGHT, margin=dict(l=0, r=0, t=0, b=0, autoexpand=False),
    paper_bgcolor='white', plot_bgcolor='white', showlegend=False,
    xaxis=x_axis([499.5 / WIDTH, 1909.5 / WIDTH]),
    xaxis2=x_axis([2082.2 / WIDTH, 3492.2 / WIDTH]),
    yaxis=left_y, yaxis2=y_axis('x2', False),
    coloraxis=dict(cmin=0, cmax=1, colorscale=spectral, colorbar=dict(
        x=3666.5 / WIDTH, xanchor='left', xpad=0, ypad=0, thickness=70, thicknessmode='pixels',
        y=(HEIGHT - 1579.5) / HEIGHT, yanchor='bottom', len=1436 / HEIGHT, lenmode='fraction',
        outlinewidth=8, outlinecolor='black', tickvals=bar_ticks, ticktext=bar_labels, ticks='inside',
        ticklen=32, tickwidth=6, tickcolor='black', tickfont=dict(family=FONT, size=TICK_SIZE, color='black'))),
    annotations=[
        dict(text='(a)', x=60 / WIDTH, y=1 - 54 / HEIGHT, xref='paper', yref='paper', xanchor='center', yanchor='middle',
             showarrow=False, font=dict(family=FONT, size=86, color='black')),
        dict(text='(b)', x=2125 / WIDTH, y=1 - 54 / HEIGHT, xref='paper', yref='paper', xanchor='center',
             yanchor='middle', showarrow=False, font=dict(family=FONT, size=86, color='black')),
        dict(text='Probability', x=4046 / WIDTH, y=1 - 856 / HEIGHT, xref='paper', yref='paper', xanchor='center',
             yanchor='middle', textangle=-90, showarrow=False, font=dict(family=FONT, size=96, color='black')),
    ])

# the page's default body margin would push the fixed-size figure past the window
fig.write_html("out.html", config={'displayModeBar': False}, post_script="document.body.style.margin = '0';")
